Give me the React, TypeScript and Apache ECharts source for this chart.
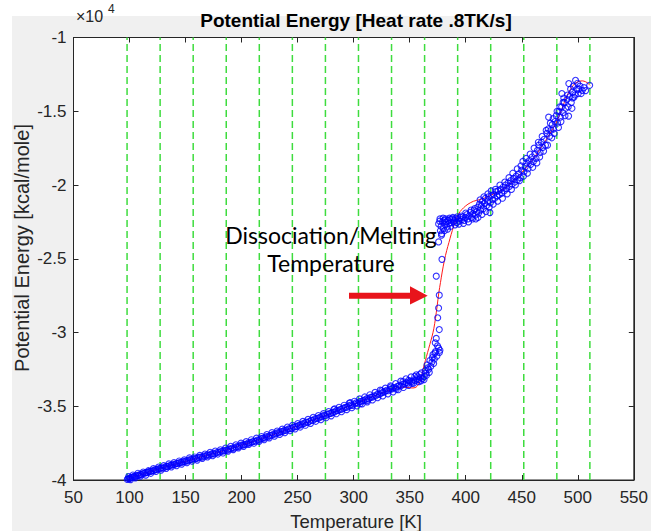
import React, { useEffect, useRef } from "react";
import * as echarts from "echarts";

// ---- data (Temperature [K], Potential Energy [kcal/mole]) ----
const xMin = 50;
const xMax = 550;
const xStep = 50;
const yMin = -40000;
const yMax = -10000;
const yStep = 5000;

// vertical dashed green reference lines (temperatures)
const stageLines = [97.8, 127.3, 156.8, 186.3, 215.8, 245.3, 274.8, 304.3, 333.8, 363.3, 392.8, 422.3, 451.8, 481.3, 510.8];

const solidPhase: [number, number][] = [
  [98.0, -39960], [98.8, -39900], [99.6, -39930], [100.5, -39870], [101.3, -39830], [102.4, -39820], [103.6, -39760], [104.5, -39790],
  [105.8, -39720], [107.0, -39680], [108.1, -39700], [109.5, -39620], [110.6, -39640], [112.0, -39560], [113.4, -39540], [114.6, -39500],
  [116.0, -39480], [117.3, -39430], [118.8, -39420], [120.1, -39380], [121.5, -39370], [123.0, -39300], [124.4, -39290], [125.8, -39240],
  [127.2, -39230], [128.5, -39170], [130.0, -39190], [131.6, -39120], [133.0, -39080], [134.3, -39090], [135.9, -39020], [137.4, -38990],
  [138.8, -38960], [140.3, -38950], [141.8, -38880], [143.2, -38870], [144.7, -38820], [146.3, -38810], [147.8, -38750], [149.2, -38760],
  [150.8, -38700], [152.3, -38690], [153.9, -38620], [155.4, -38610], [157.0, -38560], [158.6, -38550], [160.1, -38530], [161.7, -38470],
  [163.2, -38440], [164.8, -38450], [166.4, -38380], [168.0, -38370], [169.5, -38300], [171.1, -38320], [172.7, -38250], [174.3, -38210],
  [175.8, -38230], [177.4, -38150], [179.0, -38120], [180.6, -38100], [182.2, -38050], [183.8, -38030], [185.4, -37990], [187.0, -37980],
  [188.6, -37900], [190.2, -37890], [191.8, -37830], [193.4, -37840], [195.0, -37760], [196.6, -37740], [198.2, -37700], [199.8, -37640],
  [201.4, -37620], [203.0, -37580], [204.6, -37560], [206.2, -37480], [207.8, -37470], [209.4, -37420], [211.0, -37380], [212.6, -37370],
  [214.2, -37290], [215.8, -37280], [217.4, -37200], [219.0, -37160], [220.6, -37140], [222.2, -37060], [223.8, -37070], [225.4, -36990],
  [227.0, -36950], [228.6, -36900], [230.2, -36880], [231.8, -36810], [233.4, -36790], [235.0, -36720], [236.6, -36700], [238.2, -36640],
  [239.8, -36630], [241.4, -36540], [243.0, -36520], [244.6, -36500], [246.2, -36420], [247.8, -36390], [249.4, -36360], [251.0, -36290],
  [252.6, -36260], [254.2, -36200], [255.8, -36170], [257.4, -36080], [259.0, -36100], [260.6, -36020], [262.2, -35960], [263.8, -35950],
  [265.4, -35860], [267.0, -35830], [268.6, -35810], [270.2, -35730], [271.8, -35700], [273.4, -35620], [275.0, -35640], [276.6, -35540],
  [278.2, -35500], [279.8, -35480], [281.4, -35420], [283.0, -35390], [284.6, -35300], [286.2, -35290], [287.8, -35220], [289.4, -35200],
  [291.0, -35130], [292.6, -35080], [294.2, -35060], [295.8, -34980], [297.4, -34920], [299.0, -34940], [300.6, -34850], [302.2, -34770],
  [303.8, -34800], [305.4, -34690], [307.0, -34660], [308.6, -34620], [310.2, -34560], [311.8, -34480], [313.4, -34500], [315.0, -34400],
  [316.6, -34380], [318.2, -34300], [319.8, -34290], [321.4, -34180], [323.0, -34200], [324.6, -34100], [326.2, -34060], [327.8, -34010],
  [329.4, -33920], [331.0, -33950], [332.6, -33840], [334.2, -33820], [335.8, -33730], [337.4, -33760], [339.0, -33650], [340.6, -33600],
  [342.2, -33620], [343.8, -33500], [345.4, -33480], [347.0, -33400], [348.6, -33440], [350.2, -33300], [351.8, -33330], [353.4, -33220],
  [355.0, -33260], [356.6, -33150], [358.2, -33180], [359.8, -33050], [361.4, -33120], [363.0, -32980],
  [283.0, -35180], [297.0, -34760], [306.0, -34820], [312.0, -34620], [325.0, -33950], [333.0, -33700], [338.0, -33850], [344.0, -33330],
  [349.0, -33250], [352.0, -33450], [357.0, -33000], [360.0, -33280], [354.5, -32980], [358.8, -32850],
];

const solidPhaseSpread: [number, number][] = [
  [99.2, -39770], [101.0, -39970], [103.0, -39660], [105.2, -39855], [107.5, -39540], [109.8, -39745], [112.2, -39460], [114.5, -39670],
  [116.8, -39370], [119.0, -39545], [121.3, -39230], [123.6, -39420], [125.9, -39120], [128.2, -39330], [130.5, -39030], [132.8, -39210],
  [135.1, -38910], [137.4, -39115], [139.7, -38825], [142.0, -39030], [144.3, -38710], [146.6, -38920], [148.9, -38640], [151.2, -38830],
  [153.5, -38500], [155.8, -38720], [158.1, -38440], [160.4, -38650], [162.7, -38330], [165.0, -38540], [167.3, -38240], [169.6, -38440],
  [171.9, -38120], [174.2, -38350], [176.5, -38040], [178.8, -38240], [181.1, -37950], [183.4, -38170], [185.7, -37835], [188.0, -38040],
  [190.3, -37715], [192.6, -37940], [194.9, -37610], [197.2, -37820], [199.5, -37500], [201.8, -37720], [204.1, -37400], [206.4, -37590],
  [208.7, -37270], [211.0, -37510], [213.3, -37160], [215.6, -37390], [217.9, -37050], [220.2, -37270], [222.5, -36920], [224.8, -37140],
  [227.1, -36790], [229.4, -37030], [231.7, -36680], [234.0, -36910], [236.3, -36550], [238.6, -36790], [240.9, -36410], [243.2, -36660],
  [245.5, -36290], [247.8, -36540], [250.1, -36170], [252.4, -36410], [254.7, -36030], [257.0, -36290], [259.3, -35890], [261.6, -36160],
  [263.9, -35750], [266.2, -36020], [268.5, -35630], [270.8, -35910], [273.1, -35500], [275.4, -35780], [277.7, -35360], [280.0, -35650],
  [282.3, -35220], [284.6, -35510], [286.9, -35070], [289.2, -35370], [291.5, -34930], [293.8, -35230], [296.1, -34790], [298.4, -35100],
  [300.7, -34660], [303.0, -34980], [305.3, -34500], [307.6, -34840], [309.9, -34370], [312.2, -34710], [314.5, -34220], [316.8, -34570],
  [319.1, -34060], [321.4, -34420], [323.7, -33910], [326.0, -34300], [328.3, -33770], [330.6, -34160], [332.9, -33620], [335.2, -34030],
  [337.5, -33460], [339.8, -33880], [342.1, -33300], [344.4, -33730], [346.7, -33140], [349.0, -33580], [351.3, -33010], [353.6, -33440],
  [355.9, -32870], [358.2, -33330], [360.5, -32740], [362.8, -33190],
];

const transitionPts: [number, number][] = [
  [364.5, -32750], [365.5, -32200], [366.8, -32500], [368.0, -31900], [369.9, -32000], [370.8, -31500], [372.0, -31800], [373.0, -31300],
  [374.3, -31600], [375.8, -31060], [376.5, -31350], [363.8, -32600], [365.0, -32900], [366.2, -32400], [367.5, -32700], [368.8, -32300],
  [370.2, -31700], [371.4, -32100], [372.5, -31400], [374.8, -30900], [377.0, -31200], [372.8, -30700],
  [373.7, -30400], [376.4, -29800], [375.0, -29000], [375.8, -28340], [376.4, -27470], [373.7, -26180], [378.8, -25040], [375.8, -23860],
];

const plateauPts: [number, number][] = [
  [375.8, -22640], [376.8, -22450], [377.4, -23100], [378.0, -22800], [378.6, -23300], [379.3, -22500], [380.0, -22950], [380.8, -22400],
  [381.6, -22700], [382.5, -22500], [383.3, -22850], [384.2, -22400], [385.0, -22600], [386.0, -22350], [387.0, -22550], [388.0, -22300],
  [389.0, -22500], [390.0, -22400], [391.0, -22250], [392.0, -22550], [393.2, -22300], [394.2, -22450], [395.3, -22200], [396.5, -22350],
  [397.6, -22150], [398.7, -22400], [399.8, -22200], [401.0, -22000], [402.0, -22300], [403.0, -22100], [404.2, -21850], [405.3, -22200],
  [406.4, -21950], [407.5, -21700], [408.6, -22050], [409.7, -21800],
  [377.0, -22300], [378.4, -23400], [379.8, -22250], [381.0, -23100], [382.0, -22300], [383.8, -23000], [385.5, -22250], [386.5, -22800],
  [388.5, -22200], [390.5, -22700], [392.5, -22150], [394.0, -22650], [396.0, -22100], [398.0, -22600], [400.0, -21900], [402.5, -22500],
  [404.8, -21700], [406.0, -22300], [408.0, -21600], [409.0, -22300],
];

const liquidPhase: [number, number][] = [
  [410.8, -21500], [411.5, -21900], [412.3, -21300], [413.2, -21700], [414.0, -21400], [415.0, -21100], [415.8, -21600], [416.7, -21250],
  [417.6, -20900], [418.5, -21400], [419.4, -21100], [420.2, -20800], [421.6, -21870], [422.0, -21200], [423.0, -20700], [424.0, -21000],
  [425.0, -20650], [426.0, -20900], [427.0, -20450], [428.0, -20750], [429.0, -20400], [430.0, -20650], [431.0, -20300], [432.2, -20550],
  [433.3, -20150], [434.4, -20400], [435.5, -20000], [436.6, -20250], [437.8, -19850], [439.0, -20100], [440.2, -19700], [441.4, -19950],
  [442.6, -19550], [443.8, -19800], [445.0, -19400], [446.2, -19650], [447.4, -19250], [448.6, -19500], [449.8, -19000], [451.0, -18400],
  [452.0, -19100], [453.2, -18750], [454.4, -18500], [455.6, -18900], [456.8, -18350], [458.0, -18600], [459.2, -18100], [460.4, -18400],
  [461.6, -17900], [462.8, -18200], [464.0, -17650], [465.2, -17300], [466.4, -17800], [467.6, -17100], [468.8, -17450], [470.0, -16900],
  [471.2, -17300], [472.4, -16500], [473.6, -16200], [474.0, -15400], [474.8, -16700], [476.0, -16300], [477.2, -15900], [478.4, -16200],
  [479.6, -15700], [480.8, -15300], [482.0, -15800], [483.2, -15000], [484.4, -15400], [485.8, -13800], [486.9, -14400], [485.6, -14700],
  [486.8, -15100], [488.0, -14400], [489.2, -14800], [490.4, -14200], [491.8, -15330], [492.0, -13120], [493.0, -14000], [494.2, -14400],
  [495.3, -14100], [495.4, -13700], [496.6, -14050], [498.0, -12900], [499.2, -13500], [500.4, -13800], [502.0, -13300], [504.0, -13580],
  [510.6, -13240],
];

const liquidPhaseSpread: [number, number][] = [
  [411.0, -22200], [412.8, -21000], [414.5, -22000], [416.2, -20800], [418.0, -21800], [419.8, -20600], [421.0, -21500], [422.7, -20400],
  [424.5, -21300], [426.5, -20300], [428.5, -21100], [430.5, -20000], [432.8, -20900], [434.9, -19800], [437.0, -20600], [438.6, -19500],
  [440.8, -20300], [442.0, -19200], [444.3, -20000], [446.0, -18900], [448.0, -19700], [449.3, -18700], [451.5, -19400], [453.8, -18200],
  [455.0, -19200], [457.5, -17900], [459.8, -18800], [461.0, -17500], [463.5, -18500], [464.8, -17100], [466.0, -18100], [468.2, -16700],
  [469.5, -17700], [471.8, -16300], [473.0, -17300], [475.5, -15800], [476.8, -16800], [478.0, -15500], [479.0, -16500], [481.5, -15000],
  [482.8, -16100], [484.0, -14700], [485.0, -15700], [487.5, -14100], [488.6, -15300], [490.8, -13900], [491.5, -14700], [493.6, -13500],
  [494.8, -14800], [496.0, -13300], [497.5, -13900], [499.8, -13100], [501.0, -13500], [503.0, -13800], [505.5, -13400], [507.0, -13600],
];

const fitCurve: [number, number][] = [
  [98, -39950], [110, -39640], [125, -39270], [140, -38950], [155, -38630], [170, -38310], [185, -37990], [200, -37640],
  [215, -37270], [230, -36880], [245, -36480], [260, -36050], [275, -35620], [290, -35170], [305, -34720], [318, -34320],
  [328, -34020], [336, -33800], [342, -33700], [347, -33720], [352, -33760], [355.5, -33720], [358, -33500], [360, -33150],
  [362, -32500], [364, -31900], [366, -31350], [368, -30800], [370, -30250], [371.5, -29750], [373, -29050], [374.5, -28200],
  [376, -27300], [377.5, -26600], [379, -25900], [381, -25100], [383, -24450], [385, -23900], [387, -23350], [389, -22850],
  [391, -22400], [393, -22050], [395, -21800], [398, -21550], [402, -21300], [407, -21100], [412, -21000], [418, -20850],
  [425, -20600], [432, -20350], [440, -19900], [450, -19150], [460, -18250], [470, -17150], [476, -16400], [480, -15900],
  [484, -15200], [487, -14600], [489.5, -14100], [492, -13700], [494.5, -13400], [497, -13150], [500, -13000], [504, -12940],
  [507, -13000], [509.5, -13130], [511, -13250],
];

const titleText = "Potential Energy [Heat rate .8TK/s]";
const xName = "Temperature [K]";
const yName = "Potential Energy [kcal/mole]";
const noteLines = ["Dissociation/Melting", "Temperature"];

const AXIS_COLOR = "#262626";
const FONT = "'Liberation Sans', Arial, Helvetica, sans-serif";

export default function App() {
  const ref = useRef<HTMLDivElement>(null);

  useEffect(() => {
    if (!ref.current) return;
    const chart = echarts.init(ref.current, undefined, { renderer: "svg" });

    const axisCommon = {
      type: "value" as const,
      axisLine: { show: true, onZero: false, lineStyle: { color: AXIS_COLOR, width: 1 } },
      axisTick: { show: true, inside: true, length: 5, lineStyle: { color: AXIS_COLOR } },
      splitLine: { show: false },
    };

    const labelStyle = { fontSize: 17, color: AXIS_COLOR, fontFamily: FONT };

    const gridLines = stageLines.map((t) => ({
      type: "line" as const,
      data: [[t, yMin], [t, yMax]],
      symbol: "none",
      silent: true,
      z: 1,
      lineStyle: { color: "#3edc3e", width: 1.5, type: [7, 4] as any },
    }));

    const dataPts = [...solidPhase, ...solidPhaseSpread, ...transitionPts, ...plateauPts, ...liquidPhase, ...liquidPhaseSpread];

    chart.setOption({
      animation: false,
      grid: {
        left: 73.5,
        right: 12.5,
        top: 37.5,
        bottom: 51,
        show: true,
        backgroundColor: "#ffffff",
        borderColor: AXIS_COLOR,
        borderWidth: 1,
      },
      xAxis: [
        {
          ...axisCommon,
          position: "bottom",
          min: xMin,
          max: xMax,
          interval: xStep,
          axisLabel: { ...labelStyle, margin: 9 },
        },
        {
          ...axisCommon,
          position: "top",
          min: xMin,
          max: xMax,
          interval: xStep,
          axisLabel: { show: false },
        },
      ],
      yAxis: [
        {
          ...axisCommon,
          position: "left",
          min: yMin,
          max: yMax,
          interval: yStep,
          axisLabel: { ...labelStyle, margin: 7, formatter: (v: number) => String(v / 10000) },
        },
        {
          ...axisCommon,
          position: "right",
          min: yMin,
          max: yMax,
          interval: yStep,
          axisLabel: { show: false },
        },
      ],
      series: [
        ...gridLines,
        {
          type: "line",
          data: fitCurve,
          symbol: "none",
          smooth: 0.3,
          z: 2,
          lineStyle: { color: "#ff1a1a", width: 1 },
        },
        {
          type: "scatter",
          data: dataPts,
          symbol: "circle",
          symbolSize: 6,
          z: 3,
          itemStyle: { color: "rgba(0,0,0,0)", borderColor: "#0000ff", borderWidth: 1.1 },
        },
      ],
      graphic: [
        {
          type: "text",
          x: 356,
          y: 20,
          style: { text: titleText, fontSize: 19, fontWeight: "bold", fontFamily: FONT, fill: "#000", align: "center", verticalAlign: "middle" },
        },
        {
          type: "text",
          x: 76,
          y: 16,
          style: { text: "×10", fontSize: 16, fontFamily: FONT, fill: AXIS_COLOR, align: "left", verticalAlign: "middle" },
        },
        {
          type: "text",
          x: 108,
          y: 9,
          style: { text: "4", fontSize: 12, fontFamily: FONT, fill: AXIS_COLOR, align: "left", verticalAlign: "middle" },
        },
        {
          type: "text",
          x: 356,
          y: 521,
          style: { text: xName, fontSize: 18.5, fontFamily: FONT, fill: AXIS_COLOR, align: "center", verticalAlign: "middle" },
        },
        {
          type: "text",
          x: 22,
          y: 248,
          rotation: Math.PI / 2,
          style: { text: yName, fontSize: 20, fontFamily: FONT, fill: AXIS_COLOR, align: "center", verticalAlign: "middle" },
        },
        {
          type: "text",
          x: 331,
          y: 235,
          z: 10,
          style: { text: noteLines[0], fontSize: 23, fontFamily: "Lato, 'Open Sans', sans-serif", fill: "#000", align: "center", verticalAlign: "middle" },
        },
        {
          type: "text",
          x: 331,
          y: 263,
          z: 10,
          style: { text: noteLines[1], fontSize: 23, fontFamily: "Lato, 'Open Sans', sans-serif", fill: "#000", align: "center", verticalAlign: "middle" },
        },
        {
          type: "polygon",
          z: 10,
          shape: {
            points: [[349, 292.7], [410, 292.7], [410, 286.3], [427.7, 295.7], [410, 304.5], [410, 298.7], [349, 298.7]],
          },
          style: { fill: "#e8141b" },
        },
      ],
    });

    return () => chart.dispose();
  }, []);

  return (
    <div style={{ position: "absolute", left: 0, top: 0, width: 651, height: 531, background: "#ffffff" }}>
      <div style={{ position: "absolute", left: 12, top: 16, right: 0, bottom: 0, background: "#f0f0f0" }} />
      <div ref={ref} style={{ position: "absolute", left: 0, top: 0, width: 651, height: 531 }} />
    </div>
  );
}
